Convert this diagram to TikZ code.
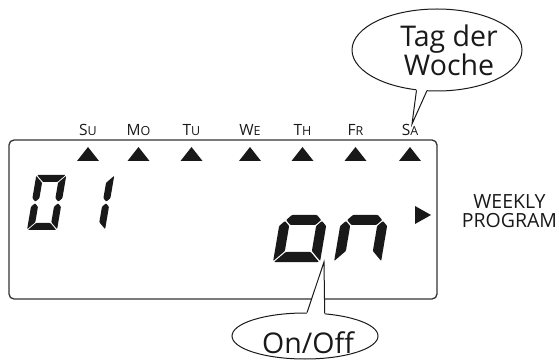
\documentclass[tikz,border=0pt]{standalone}
\usepackage{fontspec}
\setmainfont{Open Sans}
\usepackage{tikz}
\usetikzlibrary{shapes.geometric}

% seven segment pieces, local size \sgW x \sgH, thickness \sgT, gap \sgG
\newcommand{\sega}{\fill[lcdseg] (\sgG,\sgH) -- (\sgW-\sgG,\sgH) -- (\sgW-\sgT-\sgG,\sgH-\sgT) -- (\sgT+\sgG,\sgH-\sgT) -- cycle;}
\newcommand{\segb}{\fill[lcdseg] (\sgW,\sgH-\sgG) -- (\sgW,\sgH/2+\sgT/2+\sgG) -- (\sgW-\sgT/2,\sgH/2+\sgG) -- (\sgW-\sgT,\sgH/2+\sgT/2+\sgG) -- (\sgW-\sgT,\sgH-\sgT-\sgG) -- cycle;}
\newcommand{\segc}{\fill[lcdseg] (\sgW,\sgG) -- (\sgW,\sgH/2-\sgT/2-\sgG) -- (\sgW-\sgT/2,\sgH/2-\sgG) -- (\sgW-\sgT,\sgH/2-\sgT/2-\sgG) -- (\sgW-\sgT,\sgT+\sgG) -- cycle;}
\newcommand{\segd}{\fill[lcdseg] (\sgG,0) -- (\sgW-\sgG,0) -- (\sgW-\sgT-\sgG,\sgT) -- (\sgT+\sgG,\sgT) -- cycle;}
\newcommand{\sege}{\fill[lcdseg] (0,\sgG) -- (0,\sgH/2-\sgT/2-\sgG) -- (\sgT/2,\sgH/2-\sgG) -- (\sgT,\sgH/2-\sgT/2-\sgG) -- (\sgT,\sgT+\sgG) -- cycle;}
\newcommand{\segf}{\fill[lcdseg] (0,\sgH-\sgG) -- (0,\sgH/2+\sgT/2+\sgG) -- (\sgT/2,\sgH/2+\sgG) -- (\sgT,\sgH/2+\sgT/2+\sgG) -- (\sgT,\sgH-\sgT-\sgG) -- cycle;}
\newcommand{\segg}{\fill[lcdseg] (\sgT/2+\sgG,\sgH/2) -- (\sgT+\sgG,\sgH/2+\sgT/2) -- (\sgW-\sgT-\sgG,\sgH/2+\sgT/2) -- (\sgW-\sgT/2-\sgG,\sgH/2) -- (\sgW-\sgT-\sgG,\sgH/2-\sgT/2) -- (\sgT+\sgG,\sgH/2-\sgT/2) -- cycle;}

\begin{document}
\begin{tikzpicture}[x=1pt, y=-1pt,
  lcd/.style={draw=black!80, line width=1.3pt, rounded corners=5pt,
              minimum width=428pt, minimum height=159pt},
  bubble/.style={ellipse, draw=black!90, line width=1pt, fill=white, inner sep=0pt},
  tail/.style={draw=black!90, line width=1pt},
  bubtext/.style={font=\fontsize{28.5}{28}\selectfont, text=black!90, align=center, inner sep=0pt},
  side/.style={font=\fontsize{19.5}{19}\selectfont, text=black!90, align=center, inner sep=0pt},
  day/.style={anchor=base, text=black!90, inner sep=0pt},
  pointer/.style={fill=black!90},
  lcdseg/.style={fill=black!90, rounded corners=0.8pt},
  sdig/.style={y=1pt, xslant=0.17, /utils/exec={\def\sgW{30}\def\sgH{55}\def\sgT{7}\def\sgG{0.8}}},
  bdig/.style={y=1pt, xslant=0.17, /utils/exec={\def\sgW{47}\def\sgH{84}\def\sgT{10}\def\sgG{1}}}
]
  \useasboundingbox (0,0) rectangle (559,363);

  % Display frame
  \node[lcd] (lcd) at (223,219.5) {};

  % Program number 01
  \begin{scope}[shift={(27,230)}, sdig]
    \sega \segb \segc \segd \sege \segf
  \end{scope}
  \begin{scope}[shift={(75,230)}, sdig]
    \segb \segc
  \end{scope}

  % on
  \begin{scope}[shift={(273,262)}, bdig]
    \segc \segd \sege \segg
  \end{scope}
  \begin{scope}[shift={(334,262)}, bdig]
    \segc \sege \segg
  \end{scope}

  % Weekdays
  \foreach \x/\a/\b in {88/S/U, 138.5/M/O, 191.5/T/U, 250/W/E, 302.5/T/H, 355.5/F/R, 410/S/A} {
    \node[day] (day\a\b) at (\x,136)
      {{\fontsize{15.5}{15}\selectfont\a}{\fontsize{12.5}{12}\selectfont\b}};
    \fill[pointer] (\x-11,161) -- (\x+11,161) -- (\x,147) -- cycle;
  }

  % Weekly program
  \fill[pointer] (415,206) -- (431,215) -- (415,224) -- cycle;
  \node[side] (weekly) at (509.5,211.5) {WEEKLY\\PROGRAM};

  % Callout: day of week
  \node[bubble, minimum width=170pt, minimum height=82pt] (tag) at (437,50) {};
  \coordinate (tagtip) at (412,124);
  \fill[white] (tag.243) -- (tagtip) -- (tag.256) -- ([yshift=2pt]tag.256) -- ([yshift=2pt]tag.243) -- cycle;
  \draw[tail] (tag.243) -- (tagtip) -- (tag.256);
  \node[bubtext] (tagtext) at (449,50.5) {Tag der\\Woche};

  % Callout: on/off
  \node[bubble, minimum width=146pt, minimum height=46pt] (onoff) at (305,336) {};
  \coordinate (onofftip) at (324,262);
  \fill[white] (onoff.85) -- (onofftip) -- (onoff.49) -- ([yshift=-2pt]onoff.49) -- ([yshift=-2pt]onoff.85) -- cycle;
  \draw[tail] (onoff.85) -- (onofftip) -- (onoff.49);
  \node[bubtext, anchor=base] (onofftext) at (308,353) {On/Off};
\end{tikzpicture}
\end{document}
